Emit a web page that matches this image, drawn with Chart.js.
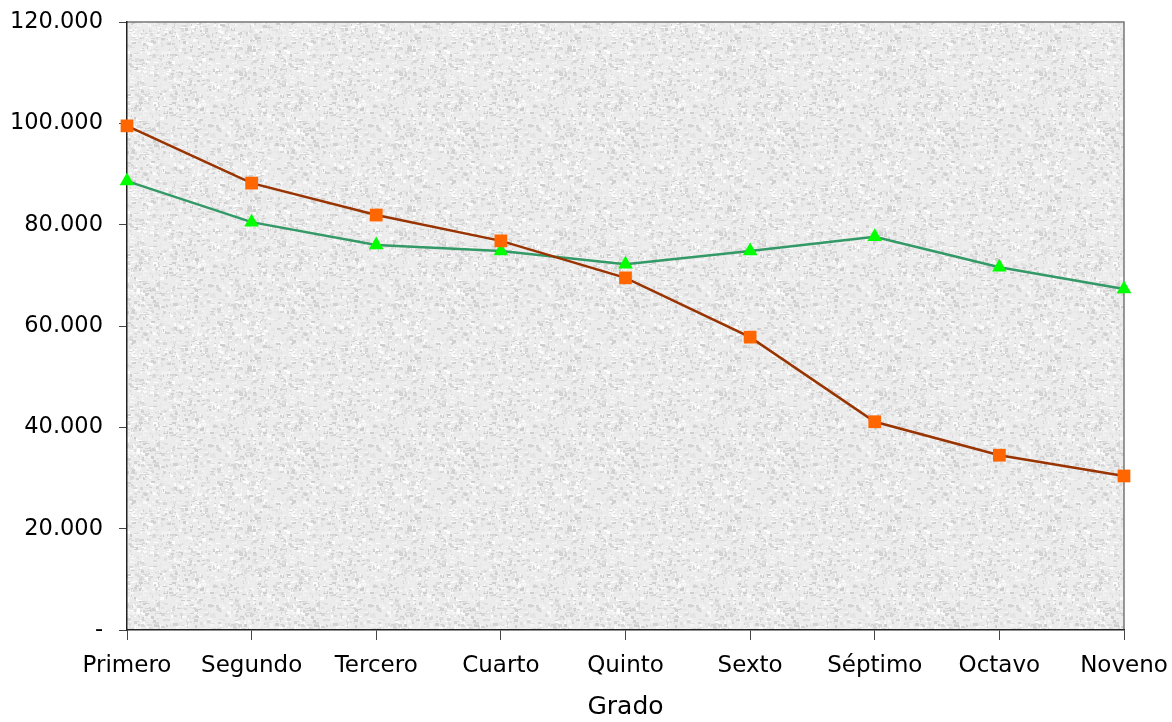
<!DOCTYPE html>
<html>
<head>
<meta charset="utf-8">
<script src="https://cdn.jsdelivr.net/npm/chart.js@4"></script>
<style>
  body { margin: 0; background: #fff; }
  #wrap { width: 1172px; height: 722px; }
</style>
</head>
<body>
<div id="wrap"><canvas id="gradoChart" width="1172" height="722"></canvas></div>
<script>
const grados = ['Primero', 'Segundo', 'Tercero', 'Cuarto', 'Quinto', 'Sexto', 'Séptimo', 'Octavo', 'Noveno'];
const serieNaranja = [99500, 88200, 81900, 76800, 69500, 57800, 41100, 34500, 30400];
const serieVerde = [88600, 80500, 76000, 74800, 72200, 74800, 77600, 71600, 67300];
const yTicks = [0, 20000, 40000, 60000, 80000, 100000, 120000];

// granite-ish backdrop for the plot area (decoration only)
function makeTexture() {
    const c = document.createElement('canvas');
    c.width = 160; c.height = 160;
    const g = c.getContext('2d');
    g.fillStyle = '#ececec';
    g.fillRect(0, 0, 160, 160);
    let seed = 7;
    const rnd = () => { seed = (seed * 16807) % 2147483647; return seed / 2147483647; };
    for (let i = 0; i < 3500; i++) {
        const v = Math.floor(205 + rnd() * 50);
        g.fillStyle = 'rgb(' + v + ',' + v + ',' + v + ')';
        g.fillRect(Math.floor(rnd() * 160), Math.floor(rnd() * 160), 1 + Math.floor(rnd() * 4), 1 + Math.floor(rnd() * 3));
    }
    return c;
}

const plotBackground = {
    id: 'plotBackground',
    beforeDraw(chart) {
        const { ctx, chartArea: a } = chart;
        ctx.save();
        ctx.fillStyle = ctx.createPattern(makeTexture(), 'repeat');
        ctx.fillRect(a.left, a.top, a.right - a.left, a.bottom - a.top);
        ctx.strokeStyle = '#777';
        ctx.lineWidth = 1.5;
        ctx.beginPath();
        ctx.moveTo(a.left, a.top);
        ctx.lineTo(a.right, a.top);
        ctx.lineTo(a.right, a.bottom);
        ctx.stroke();
        ctx.restore();
    }
};

const ctx = document.getElementById('gradoChart').getContext('2d');
new Chart(ctx, {
    type: 'line',
    data: {
        labels: grados,
        datasets: [
            {
                label: 'Serie 1',
                data: serieNaranja,
                borderColor: '#993300',
                backgroundColor: '#ff6600',
                borderWidth: 2.5,
                pointStyle: 'rect',
                pointRadius: 9,
                pointBorderWidth: 0,
                tension: 0
            },
            {
                label: 'Serie 2',
                data: serieVerde,
                borderColor: '#339966',
                backgroundColor: '#00ff00',
                borderWidth: 2.5,
                pointStyle: 'triangle',
                pointRadius: 8.5,
                pointBorderWidth: 0,
                tension: 0
            }
        ]
    },
    options: {
        responsive: false,
        animation: false,
        layout: { padding: { top: 22, right: 48, bottom: 0, left: 0 } },
        plugins: {
            legend: { display: false },
            tooltip: { enabled: false }
        },
        scales: {
            x: {
                offset: false,
                afterFit: axis => { axis.height = 92; axis.paddingLeft = 0; axis.paddingRight = 0; },
                grid: { drawOnChartArea: false, tickLength: 10, color: '#444' },
                border: { color: '#222', width: 1.5 },
                ticks: { color: '#000', font: { family: 'DejaVu Sans', size: 23 }, padding: 12, maxRotation: 0 },
                title: { display: true, text: 'Grado', color: '#000', font: { family: 'DejaVu Sans', size: 25 }, padding: { top: 8, bottom: 0 } }
            },
            y: {
                min: 0,
                max: 120000,
                afterBuildTicks: axis => { axis.ticks = yTicks.map(v => ({ value: v })); },
                afterFit: axis => { axis.width = 127; axis.paddingTop = 0; axis.paddingBottom = 0; },
                grid: { drawOnChartArea: false, tickLength: 8, color: '#444' },
                border: { color: '#222', width: 1.5 },
                ticks: {
                    color: '#000',
                    font: { family: 'DejaVu Sans', size: 22.5 },
                    padding: 16,
                    callback: v => v === 0 ? '-' : v.toLocaleString('de-DE')
                }
            }
        }
    },
    plugins: [plotBackground]
});
</script>
</body>
</html>
